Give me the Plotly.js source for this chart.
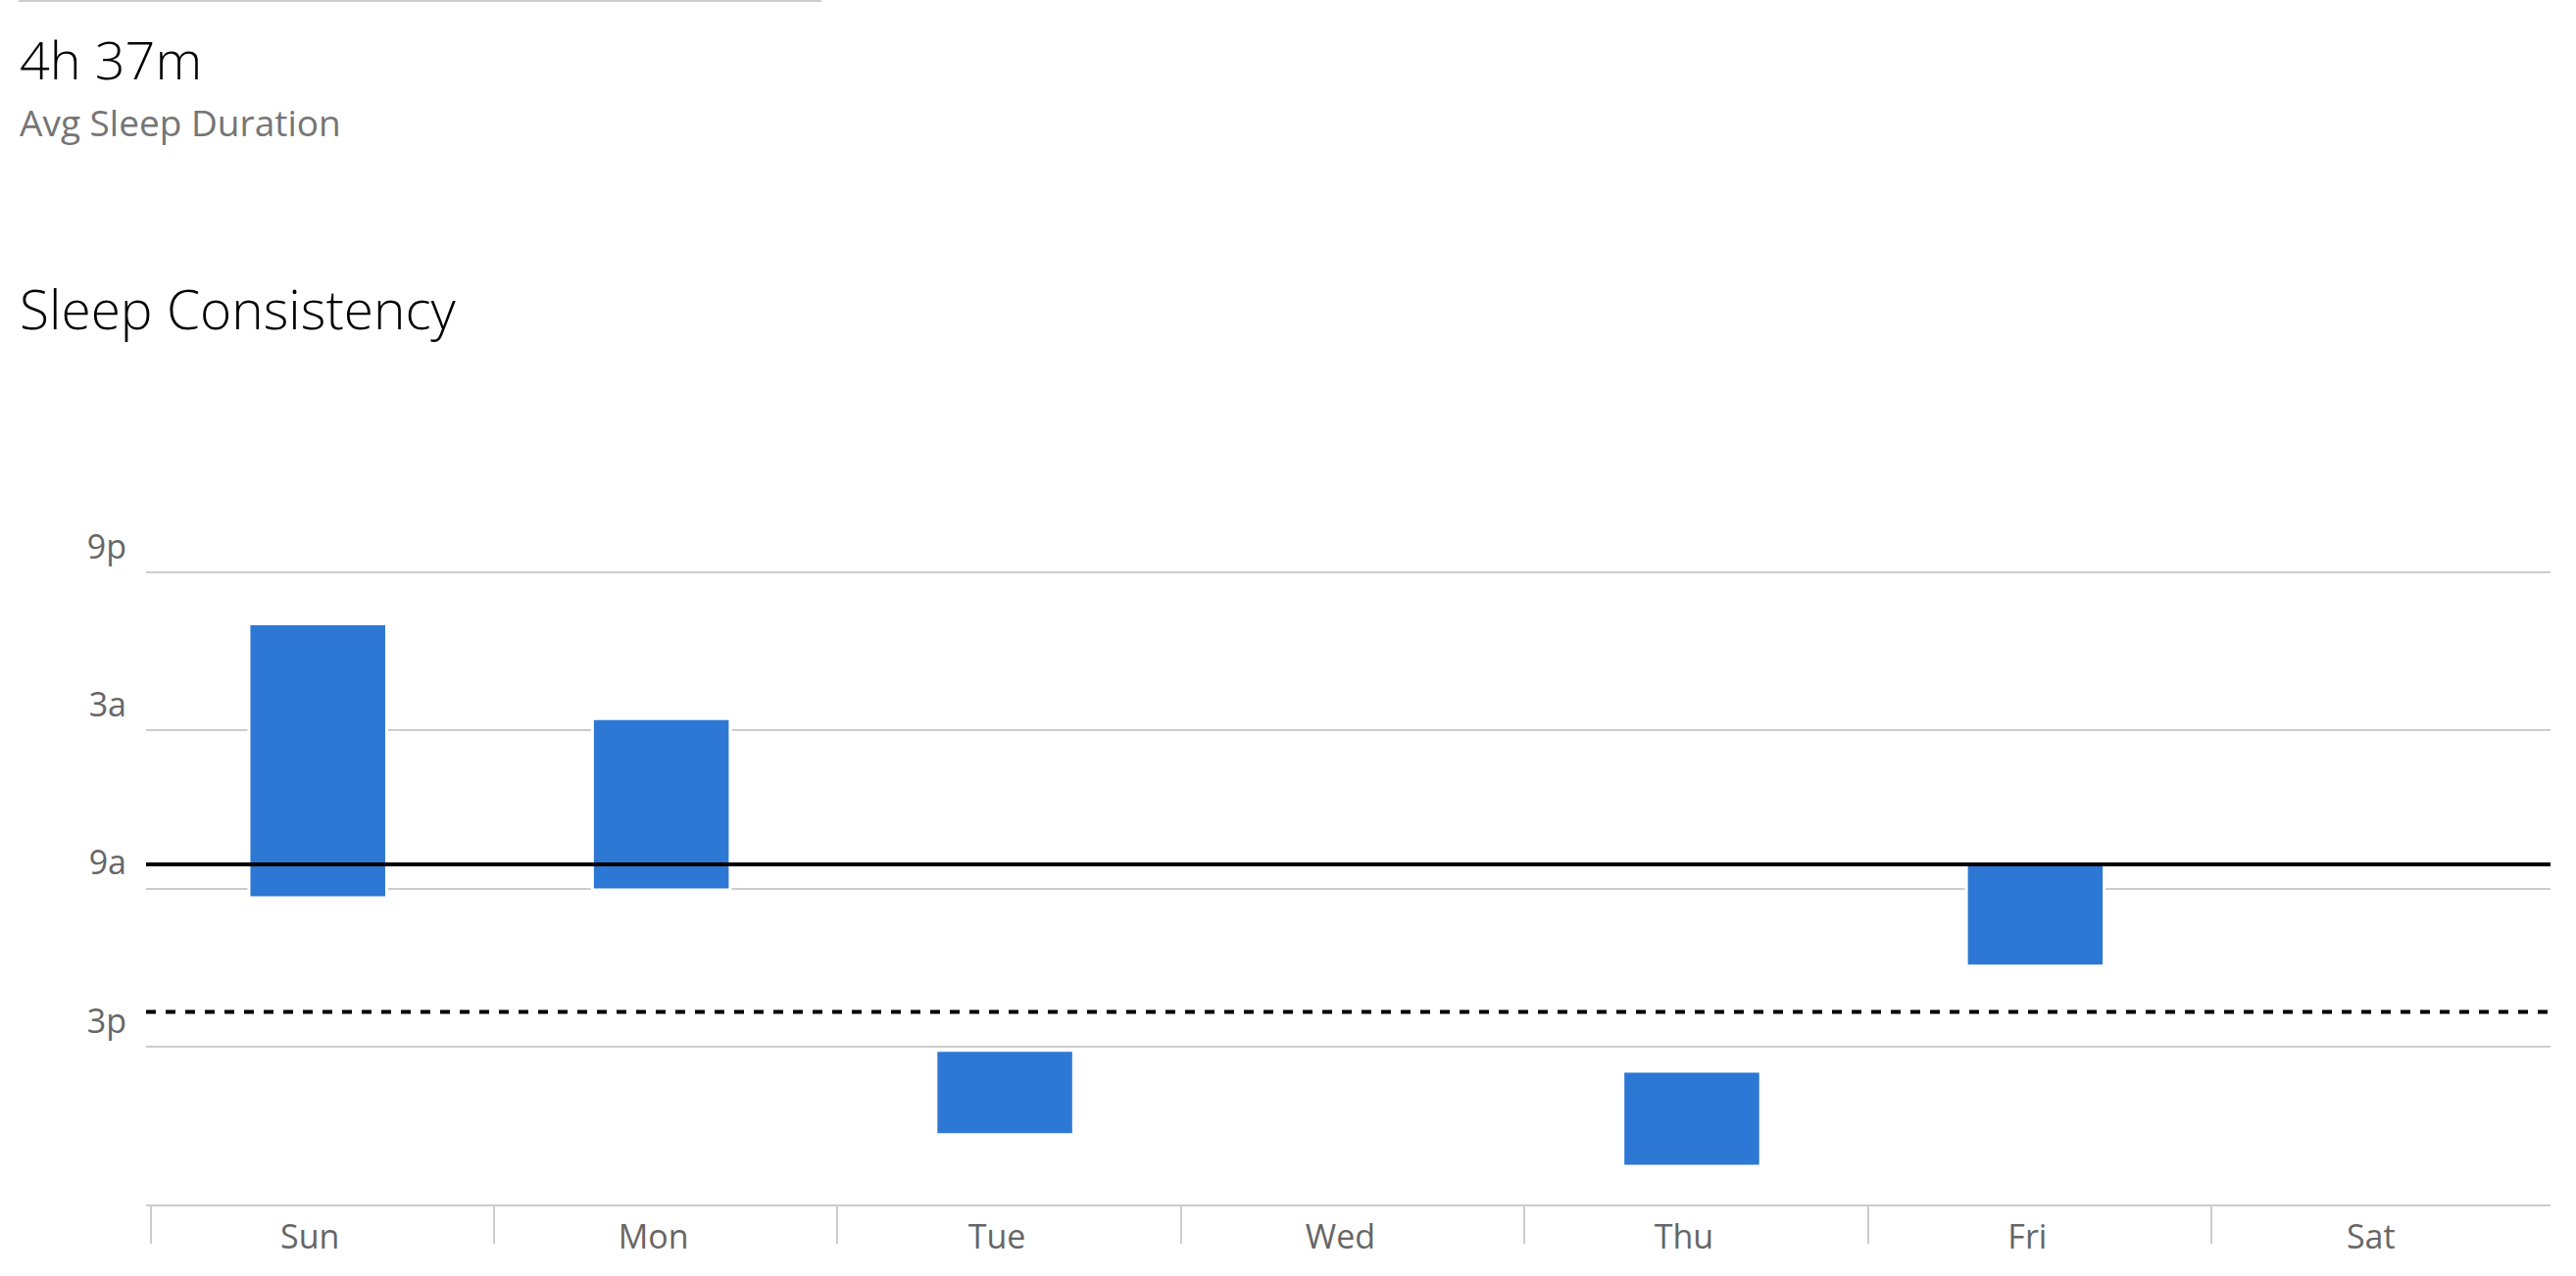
<!DOCTYPE html>
<html>
<head>
<meta charset="utf-8">
<script src="https://cdn.plot.ly/plotly-3.0.1.min.js"></script>
<style>
  html, body { margin: 0; padding: 0; background: #ffffff; }
  #chart { width: 2628px; height: 1302px; }
</style>
</head>
<body>
<div id="chart"></div>
<script>
// ---- data (hours on a continuous clock; 24 = midnight, 33 = 9a next day, 45 = 9p next day) ----
const days = ['Sun', 'Mon', 'Tue', 'Wed', 'Thu', 'Fri', 'Sat'];
const sleepStart = [22.95, 26.55, 39.15, null, 39.94, 32.08, null];
const sleepEnd   = [33.35, 33.05, 42.35, null, 43.55, 35.95, null];
const targetWake = 32.09;      // solid black reference line
const targetBed  = 37.69;      // dotted reference line
const yTickVals  = [21, 27, 33, 39];
const yTickText  = ['9p', '3a', '9a', '3p'];
const yRange     = [45, 20.96];
const avgDuration = '4h 37m';
const avgLabel    = 'Avg Sleep Duration';
const chartTitle  = 'Sleep Consistency';

const FONT = 'Open Sans, Noto Sans, sans-serif';
const W = 2628, H = 1302;
const M = { l: 149, r: 26, t: 583, b: 73 };
const plotW = W - M.l - M.r, plotH = H - M.t - M.b;
const px2x = px => (px - M.l) / plotW;
const py2y = py => (H - M.b - py) / plotH;

const durations = sleepStart.map((s, i) => (s == null || sleepEnd[i] == null) ? null : sleepEnd[i] - s);
// day-separator ticks sit just right of each category's left boundary
const sepTicks = days.map((d, i) => i - 0.5 + 0.013);

const traces = [{
  type: 'bar',
  x: days,
  y: durations,
  base: sleepStart,
  width: 0.401,
  marker: { color: '#2d78d4', line: { color: '#ffffff', width: 3 } },
  hoverinfo: 'skip',
  showlegend: false
}, {
  type: 'scatter', mode: 'markers', x: [], y: [], xaxis: 'x2', yaxis: 'y',
  hoverinfo: 'skip', showlegend: false
}];

const layout = {
  width: W, height: H,
  margin: M,
  paper_bgcolor: '#ffffff',
  plot_bgcolor: '#ffffff',
  font: { family: FONT, color: '#666666' },
  showlegend: false,
  xaxis: {
    type: 'category',
    categoryorder: 'array',
    categoryarray: days,
    range: [-0.5, 6.5],
    showgrid: false,
    zeroline: false,
    showline: true, linecolor: '#cccccc', linewidth: 2,
    ticks: 'outside', tickson: 'boundaries', ticklen: 39, tickwidth: 2, tickcolor: 'rgba(0,0,0,0)',
    tickfont: { family: FONT, size: 34, color: '#666666' },
    ticklabelstandoff: 2,
    ticklabelshift: -8,
    fixedrange: true
  },
  xaxis2: {
    overlaying: 'x', anchor: 'y', side: 'bottom',
    range: [-0.5, 6.5],
    tickmode: 'array', tickvals: sepTicks,
    showticklabels: false,
    ticks: 'outside', ticklen: 39, tickwidth: 2, tickcolor: '#cccccc',
    showgrid: false, zeroline: false, showline: false,
    fixedrange: true
  },
  yaxis: {
    range: yRange,
    tickmode: 'array',
    tickvals: yTickVals,
    ticktext: yTickText,
    showgrid: true, gridcolor: '#cccccc', gridwidth: 2,
    zeroline: false, showline: false, ticks: '',
    tickfont: { family: FONT, size: 34, color: '#666666' },
    ticklabelshift: 26,
    ticklabelstandoff: 19,
    fixedrange: true
  },
  shapes: [
    { type: 'line', xref: 'paper', yref: 'y', x0: 0, x1: 1, y0: targetWake, y1: targetWake,
      line: { color: '#000000', width: 4 }, layer: 'above' },
    { type: 'line', xref: 'paper', yref: 'y', x0: 0, x1: 1, y0: targetBed, y1: targetBed,
      line: { color: '#000000', width: 4, dash: '10px,10px' }, layer: 'above' },
    { type: 'line', xref: 'paper', yref: 'paper', x0: px2x(19), x1: px2x(838), y0: py2y(1), y1: py2y(1),
      line: { color: '#cccccc', width: 2 } }
  ],
  annotations: [
    { text: avgDuration, xref: 'paper', yref: 'paper', x: px2x(18), y: py2y(59.5),
      xanchor: 'left', yanchor: 'middle', showarrow: false,
      font: { family: FONT, size: 54, color: '#000000', weight: 300 } },
    { text: avgLabel, xref: 'paper', yref: 'paper', x: px2x(18), y: py2y(124),
      xanchor: 'left', yanchor: 'middle', showarrow: false,
      font: { family: FONT, size: 37, color: '#757575' } },
    { text: chartTitle, xref: 'paper', yref: 'paper', x: px2x(18), y: py2y(314),
      xanchor: 'left', yanchor: 'middle', showarrow: false,
      font: { family: FONT, size: 55, color: '#000000', weight: 300 } }
  ]
};

Plotly.newPlot('chart', traces, layout, { displayModeBar: false, staticPlot: true });
</script>
</body>
</html>
